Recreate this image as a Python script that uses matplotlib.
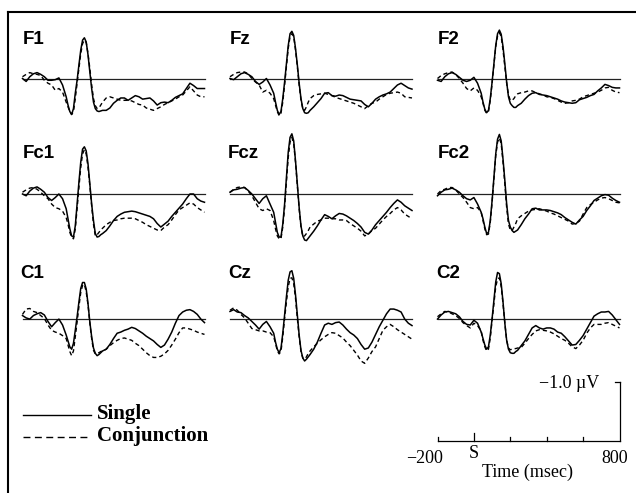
import matplotlib
matplotlib.use("Agg")
import matplotlib.pyplot as plt
from matplotlib.lines import Line2D

plt.rcParams['lines.scale_dashes'] = False

# ---------------- data (µV, negative plotted up) ----------------
time_ms = [-200, -180, -160, -140, -120, -100, -80, -60, -40, -20, 0, 20, 40,
           50, 60, 70, 80, 90, 100, 110, 120, 130, 140, 150, 160, 170, 180, 190, 200, 210, 220, 230, 240,
           260, 280, 300, 320, 340, 360, 380, 400, 420, 440, 460, 480, 500, 520, 540, 560, 580, 600,
           620, 640, 660, 680, 700, 720, 740, 760, 780, 800]

electrodes = ["F1", "Fz", "F2", "Fc1", "Fcz", "Fc2", "C1", "Cz", "C2"]

F1_single = [0.00, 0.05, -0.03, -0.08, -0.10, -0.07, -0.03, 0.03, 0.03, 0.02, -0.01, 0.11, 0.31,
             0.45, 0.56, 0.61, 0.51, 0.25, 0.03, -0.23, -0.48, -0.65, -0.69, -0.62, -0.40, -0.11, 0.17, 0.40, 0.51, 0.55, 0.56, 0.55, 0.54,
             0.54, 0.50, 0.42, 0.37, 0.33, 0.33, 0.37, 0.33, 0.29, 0.31, 0.35, 0.34, 0.33, 0.38, 0.45, 0.41, 0.40, 0.41, 0.37, 0.32, 0.29, 0.26, 0.17, 0.08, 0.12, 0.17, 0.17, 0.17]
F1_conj = [-0.03, -0.07, -0.10, -0.08, -0.07, -0.05, 0.03, 0.08, 0.11, 0.20, 0.17, 0.23, 0.40,
           0.48, 0.56, 0.61, 0.56, 0.34, 0.08, -0.17, -0.42, -0.59, -0.65, -0.61, -0.42, -0.17, 0.11, 0.34, 0.46, 0.51, 0.50, 0.45, 0.40,
           0.33, 0.31, 0.33, 0.35, 0.37, 0.37, 0.37, 0.38, 0.41, 0.44, 0.45, 0.50, 0.52, 0.54, 0.51, 0.48, 0.44, 0.41, 0.38, 0.35, 0.31, 0.28, 0.21, 0.14, 0.21, 0.28, 0.31, 0.31]

Fz_single = [0.00, 0.02, -0.03, -0.08, -0.10, -0.07, -0.03, 0.05, 0.10, 0.06, 0.00, 0.11, 0.25,
             0.40, 0.54, 0.61, 0.56, 0.34, 0.06, -0.25, -0.56, -0.76, -0.80, -0.73, -0.51, -0.23, 0.08, 0.34, 0.51, 0.58, 0.59, 0.58, 0.54,
             0.48, 0.41, 0.34, 0.25, 0.24, 0.29, 0.30, 0.28, 0.29, 0.32, 0.35, 0.36, 0.37, 0.38, 0.44, 0.48, 0.42, 0.35, 0.31, 0.28, 0.26, 0.23, 0.17, 0.11, 0.08, 0.12, 0.16, 0.18]
Fz_conj = [-0.03, -0.07, -0.10, -0.11, -0.11, -0.08, 0.00, 0.06, 0.11, 0.23, 0.20, 0.25, 0.34,
           0.45, 0.56, 0.63, 0.59, 0.40, 0.11, -0.20, -0.51, -0.71, -0.76, -0.71, -0.48, -0.20, 0.11, 0.37, 0.51, 0.54, 0.48, 0.40, 0.34,
           0.29, 0.27, 0.26, 0.25, 0.27, 0.29, 0.32, 0.34, 0.36, 0.38, 0.40, 0.42, 0.45, 0.48, 0.51, 0.46, 0.42, 0.40, 0.35, 0.31, 0.27, 0.25, 0.24, 0.23, 0.25, 0.31, 0.32, 0.33]

F2_single = [0.03, 0.05, -0.03, -0.08, -0.10, -0.07, -0.02, 0.03, 0.05, 0.03, -0.02, 0.08, 0.25,
             0.40, 0.52, 0.58, 0.54, 0.34, 0.06, -0.25, -0.56, -0.76, -0.82, -0.75, -0.54, -0.25, 0.06, 0.31, 0.42, 0.46, 0.49, 0.49, 0.46,
             0.42, 0.35, 0.29, 0.25, 0.24, 0.27, 0.28, 0.29, 0.31, 0.33, 0.35, 0.38, 0.40, 0.41, 0.42, 0.41, 0.36, 0.34, 0.32, 0.29, 0.27, 0.21, 0.16, 0.10, 0.12, 0.15, 0.16, 0.16]
F2_conj = [0.00, -0.05, -0.08, -0.10, -0.11, -0.07, 0.00, 0.08, 0.17, 0.21, 0.16, 0.20, 0.31,
           0.42, 0.54, 0.59, 0.56, 0.37, 0.08, -0.23, -0.54, -0.72, -0.78, -0.71, -0.48, -0.20, 0.08, 0.28, 0.37, 0.37, 0.34, 0.29, 0.26,
           0.24, 0.23, 0.21, 0.21, 0.24, 0.26, 0.28, 0.31, 0.32, 0.34, 0.37, 0.40, 0.42, 0.41, 0.38, 0.37, 0.35, 0.31, 0.29, 0.27, 0.25, 0.23, 0.20, 0.16, 0.15, 0.20, 0.23, 0.24]

Fc1_single = [0.00, 0.03, -0.05, -0.10, -0.12, -0.08, -0.03, 0.06, 0.11, 0.06, 0.00, 0.08, 0.25,
              0.42, 0.59, 0.71, 0.73, 0.54, 0.17, -0.20, -0.54, -0.76, -0.80, -0.73, -0.51, -0.17, 0.17, 0.45, 0.67, 0.73, 0.72, 0.69, 0.67,
              0.62, 0.54, 0.45, 0.38, 0.34, 0.31, 0.30, 0.29, 0.30, 0.32, 0.34, 0.36, 0.38, 0.42, 0.50, 0.56, 0.51, 0.46, 0.38, 0.31, 0.24, 0.17, 0.08, 0.00, 0.00, 0.08, 0.12, 0.14]
Fc1_conj = [-0.03, -0.07, -0.10, -0.11, -0.08, -0.03, 0.03, 0.08, 0.17, 0.23, 0.25, 0.29, 0.40,
            0.51, 0.65, 0.73, 0.76, 0.59, 0.25, -0.11, -0.45, -0.68, -0.75, -0.68, -0.45, -0.14, 0.20, 0.51, 0.71, 0.69, 0.65, 0.61, 0.58,
            0.52, 0.48, 0.45, 0.44, 0.42, 0.41, 0.41, 0.41, 0.42, 0.45, 0.48, 0.52, 0.55, 0.58, 0.61, 0.62, 0.56, 0.52, 0.44, 0.35, 0.27, 0.23, 0.19, 0.15, 0.17, 0.23, 0.27, 0.31]

Fcz_single = [-0.03, -0.07, -0.08, -0.10, -0.11, -0.06, 0.00, 0.08, 0.16, 0.08, 0.03, 0.17, 0.31,
              0.48, 0.65, 0.73, 0.73, 0.51, 0.17, -0.28, -0.71, -0.96, -1.02, -0.90, -0.56, -0.17, 0.23, 0.54, 0.71, 0.78, 0.79, 0.75, 0.71,
              0.63, 0.54, 0.44, 0.35, 0.38, 0.42, 0.37, 0.33, 0.34, 0.37, 0.41, 0.45, 0.50, 0.56, 0.65, 0.68, 0.61, 0.52, 0.45, 0.38, 0.31, 0.23, 0.16, 0.10, 0.14, 0.20, 0.24, 0.28]
Fcz_conj = [-0.03, -0.08, -0.11, -0.12, -0.11, -0.05, 0.03, 0.14, 0.25, 0.28, 0.25, 0.28, 0.45,
            0.59, 0.71, 0.76, 0.76, 0.56, 0.23, -0.20, -0.62, -0.88, -0.96, -0.85, -0.54, -0.14, 0.25, 0.56, 0.72, 0.71, 0.67, 0.62, 0.56,
            0.51, 0.46, 0.44, 0.41, 0.41, 0.42, 0.42, 0.44, 0.44, 0.45, 0.50, 0.54, 0.58, 0.63, 0.71, 0.68, 0.62, 0.58, 0.51, 0.44, 0.38, 0.33, 0.27, 0.23, 0.27, 0.34, 0.38, 0.42]

Fc2_single = [0.03, -0.03, -0.07, -0.08, -0.10, -0.07, -0.03, 0.03, 0.08, 0.10, 0.06, 0.17, 0.31,
              0.42, 0.56, 0.67, 0.65, 0.45, 0.11, -0.28, -0.68, -0.93, -1.01, -0.90, -0.59, -0.23, 0.17, 0.45, 0.56, 0.62, 0.65, 0.63, 0.61,
              0.52, 0.42, 0.34, 0.25, 0.24, 0.27, 0.27, 0.27, 0.28, 0.30, 0.32, 0.35, 0.40, 0.44, 0.48, 0.51, 0.44, 0.38, 0.28, 0.20, 0.11, 0.07, 0.03, 0.01, 0.02, 0.07, 0.11, 0.14]
Fc2_conj = [0.00, -0.06, -0.08, -0.11, -0.11, -0.07, 0.00, 0.06, 0.14, 0.23, 0.25, 0.23, 0.31,
            0.45, 0.59, 0.69, 0.68, 0.48, 0.14, -0.25, -0.65, -0.88, -0.95, -0.85, -0.54, -0.17, 0.23, 0.51, 0.61, 0.62, 0.56, 0.50, 0.42,
            0.37, 0.33, 0.29, 0.27, 0.26, 0.25, 0.27, 0.29, 0.32, 0.34, 0.37, 0.40, 0.43, 0.46, 0.51, 0.50, 0.46, 0.34, 0.23, 0.18, 0.14, 0.10, 0.07, 0.06, 0.08, 0.11, 0.14, 0.15]

C1_single = [-0.05, -0.01, 0.01, -0.05, -0.08, -0.10, -0.06, 0.05, 0.14, 0.07, 0.01, 0.11, 0.28,
             0.38, 0.48, 0.52, 0.42, 0.20, -0.03, -0.28, -0.51, -0.61, -0.61, -0.50, -0.25, 0.06, 0.31, 0.50, 0.59, 0.63, 0.61, 0.58, 0.55,
             0.52, 0.44, 0.34, 0.25, 0.23, 0.20, 0.18, 0.15, 0.17, 0.21, 0.25, 0.30, 0.34, 0.38, 0.44, 0.49, 0.45, 0.35, 0.23, 0.08, -0.05, -0.11, -0.14, -0.15, -0.12, -0.07, 0.01, 0.07]
C1_conj = [-0.07, -0.16, -0.17, -0.12, -0.10, -0.05, 0.00, 0.11, 0.20, 0.23, 0.25, 0.29, 0.34,
           0.45, 0.56, 0.63, 0.55, 0.31, 0.06, -0.20, -0.44, -0.56, -0.58, -0.45, -0.23, 0.08, 0.34, 0.54, 0.60, 0.59, 0.58, 0.56, 0.55,
           0.52, 0.46, 0.41, 0.37, 0.34, 0.33, 0.35, 0.37, 0.42, 0.46, 0.52, 0.58, 0.63, 0.66, 0.66, 0.64, 0.60, 0.54, 0.45, 0.35, 0.24, 0.16, 0.16, 0.18, 0.20, 0.23, 0.25, 0.27]

Cz_single = [-0.12, -0.15, -0.11, -0.10, -0.05, -0.01, 0.05, 0.11, 0.18, 0.10, 0.05, 0.14, 0.25,
             0.40, 0.52, 0.58, 0.51, 0.25, -0.06, -0.37, -0.65, -0.79, -0.81, -0.68, -0.40, -0.06, 0.28, 0.54, 0.67, 0.72, 0.69, 0.65, 0.61,
             0.52, 0.40, 0.25, 0.11, 0.08, 0.10, 0.07, 0.06, 0.11, 0.18, 0.24, 0.28, 0.34, 0.44, 0.52, 0.50, 0.40, 0.27, 0.14, 0.03, -0.08, -0.16, -0.16, -0.14, -0.11, 0.01, 0.08, 0.12]
Cz_conj = [-0.14, -0.18, -0.14, -0.07, -0.01, 0.08, 0.17, 0.19, 0.21, 0.21, 0.23, 0.24, 0.31,
           0.42, 0.55, 0.60, 0.56, 0.31, 0.00, -0.28, -0.54, -0.68, -0.69, -0.59, -0.34, 0.00, 0.31, 0.56, 0.67, 0.69, 0.65, 0.59, 0.55,
           0.48, 0.42, 0.36, 0.31, 0.27, 0.24, 0.25, 0.29, 0.33, 0.40, 0.46, 0.54, 0.62, 0.72, 0.76, 0.67, 0.56, 0.48, 0.34, 0.20, 0.14, 0.10, 0.14, 0.19, 0.23, 0.27, 0.31, 0.35]

C2_single = [0.01, -0.06, -0.11, -0.12, -0.10, -0.08, -0.03, 0.05, 0.10, 0.11, 0.03, 0.08, 0.23,
             0.34, 0.45, 0.52, 0.48, 0.28, 0.00, -0.31, -0.62, -0.78, -0.76, -0.59, -0.28, 0.08, 0.37, 0.52, 0.58, 0.59, 0.59, 0.56, 0.54,
             0.46, 0.38, 0.27, 0.16, 0.12, 0.16, 0.18, 0.16, 0.16, 0.18, 0.23, 0.25, 0.31, 0.38, 0.45, 0.44, 0.37, 0.29, 0.18, 0.07, -0.04, -0.08, -0.11, -0.11, -0.12, -0.06, 0.02, 0.10]
C2_conj = [-0.03, -0.08, -0.12, -0.11, -0.08, -0.05, 0.00, 0.07, 0.12, 0.16, 0.08, 0.12, 0.21,
           0.37, 0.48, 0.55, 0.52, 0.33, 0.03, -0.25, -0.54, -0.67, -0.69, -0.54, -0.25, 0.08, 0.37, 0.50, 0.53, 0.52, 0.51, 0.51, 0.50,
           0.49, 0.42, 0.34, 0.27, 0.21, 0.19, 0.20, 0.21, 0.23, 0.26, 0.30, 0.34, 0.37, 0.42, 0.48, 0.51, 0.45, 0.37, 0.25, 0.16, 0.10, 0.10, 0.10, 0.08, 0.07, 0.10, 0.13, 0.16]

single_series = [F1_single, Fz_single, F2_single, Fc1_single, Fcz_single, Fc2_single, C1_single, Cz_single, C2_single]
conj_series = [F1_conj, Fz_conj, F2_conj, Fc1_conj, Fcz_conj, Fc2_conj, C1_conj, Cz_conj, C2_conj]

legend_labels = ["Single", "Conjunction"]
scale_ticks = [-200, 0, 200, 400, 600, 800]
calib_uv = -1.0
time_label = "Time (msec)"

for name, s, c in zip(electrodes, single_series, conj_series):
    assert len(s) == len(time_ms), (name, "single", len(s))
    assert len(c) == len(time_ms), (name, "conj", len(c))

# ---------------- layout (pixels) ----------------
W, H = 636, 493
fig = plt.figure(figsize=(W / 100, H / 100), dpi=100)
fig.patch.set_facecolor("white")

PX_PER_MS = 182 / 1000
PX_PER_UV = 59
Y_TOP, Y_BOT = -1.25, 0.85
col_x0 = [22.5, 230, 437.5]
row_base = [78.5, 194, 318.5]
label_pos = [[(23, 44.3), (230, 44.3), (438, 44.3)],
             [(22.5, 157.5), (228, 157.5), (438, 157.5)],
             [(20, 277.5), (228, 277.5), (436, 277.5)]]


def add_panel(x0, base):
    top_px = base + Y_TOP * PX_PER_UV
    bot_px = base + Y_BOT * PX_PER_UV
    ax = fig.add_axes([x0 / W, 1 - bot_px / H, 1000 * PX_PER_MS / W, (bot_px - top_px) / H])
    ax.set_xlim(time_ms[0], time_ms[-1])
    ax.set_ylim(Y_BOT, Y_TOP)
    ax.axis("off")
    ax.patch.set_alpha(0)
    return ax


def ftext(x, y, s, **kw):
    fig.text(x / W, 1 - y / H, s, **kw)


for i, name in enumerate(electrodes):
    r, c = divmod(i, 3)
    ax = add_panel(col_x0[c], row_base[r])
    ax.axhline(0, color="#222222", lw=0.9, clip_on=False)
    ax.plot(time_ms, conj_series[i], color="black", lw=1.0, linestyle=(0, (3.0, 2.2)), clip_on=False)
    ax.plot(time_ms, single_series[i], color="black", lw=1.1, clip_on=False)
    lx, ly = label_pos[r][c]
    ftext(lx, ly, name, ha="left", va="baseline", fontsize=13.5, fontweight="bold",
          family="Liberation Sans")

# legend
serif = "Liberation Serif"
fig.add_artist(Line2D([22.5 / W, 90.5 / W], [1 - 415 / H, 1 - 415 / H], color="black", lw=1.0))
fig.add_artist(Line2D([22.5 / W, 90.5 / W], [1 - 436.7 / H, 1 - 436.7 / H], color="black", lw=1.0,
                      linestyle=(0, (5.0, 3.2))))
ftext(96.7, 419.3, legend_labels[0], ha="left", va="baseline", fontsize=15, fontweight="bold", family=serif)
ftext(96.7, 441.0, legend_labels[1], ha="left", va="baseline", fontsize=15, fontweight="bold", family=serif)

# scale bar
sax = add_panel(col_x0[2], 441)
sax.plot([scale_ticks[0], scale_ticks[-1]], [0, 0], color="black", lw=0.9, clip_on=False)
for t in scale_ticks[:-1]:
    h = 8 if t == 0 else 4
    sax.plot([t, t], [0, -h / PX_PER_UV], color="black", lw=0.9, clip_on=False)
sax.plot([scale_ticks[-1], scale_ticks[-1]], [0, calib_uv], color="black", lw=0.9, clip_on=False)
sax.plot([scale_ticks[-1] - 5 / PX_PER_MS, scale_ticks[-1]], [calib_uv, calib_uv], color="black", lw=0.9,
         clip_on=False)

ftext(599, 388, "\u22121.0 \u00b5V", ha="right", va="baseline", fontsize=13, family=serif)
ftext(443, 463, "\u2212200", ha="right", va="baseline", fontsize=13, family=serif)
ftext(473.5, 457.5, "S", ha="center", va="baseline", fontsize=13, family=serif)
ftext(615, 463, "800", ha="center", va="baseline", fontsize=13, family=serif)
ftext(527.5, 476.7, time_label, ha="center", va="baseline", fontsize=13, family=serif)

# frame (top and left edges)
fig.add_artist(Line2D([7.8 / W, 1.0], [1 - 12 / H, 1 - 12 / H], color="black", lw=1.5))
fig.add_artist(Line2D([7.8 / W, 7.8 / W], [1 - 12 / H, 0.0], color="black", lw=1.5))

fig.savefig("out.png", dpi=100, facecolor="white")
